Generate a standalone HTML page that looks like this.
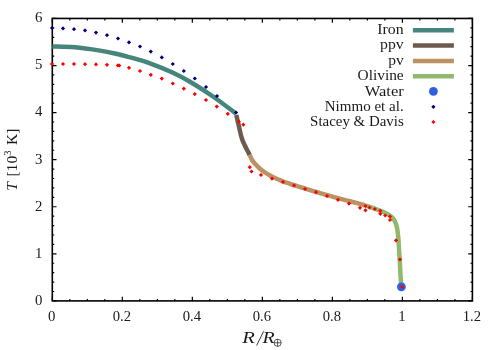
<!DOCTYPE html>
<html><head><meta charset="utf-8"><title>T profile</title>
<style>html,body{margin:0;padding:0;background:#fff}svg{display:block;will-change:transform}text{font-family:"Liberation Serif",serif;fill:#1a1a1a}</style></head><body>
<svg width="500" height="350" viewBox="0 0 500 350">
<rect width="500" height="350" fill="#fff"/>
<path d="M52.3 300.9v-4.2M52.3 18.45v4.2M69.8 300.9v-1.95M69.8 18.45v1.95M87.31 300.9v-1.95M87.31 18.45v1.95M104.81 300.9v-1.95M104.81 18.45v1.95M122.32 300.9v-4.2M122.32 18.45v4.2M139.82 300.9v-1.95M139.82 18.45v1.95M157.32 300.9v-1.95M157.32 18.45v1.95M174.83 300.9v-1.95M174.83 18.45v1.95M192.33 300.9v-4.2M192.33 18.45v4.2M209.84 300.9v-1.95M209.84 18.45v1.95M227.34 300.9v-1.95M227.34 18.45v1.95M244.85 300.9v-1.95M244.85 18.45v1.95M262.35 300.9v-4.2M262.35 18.45v4.2M279.85 300.9v-1.95M279.85 18.45v1.95M297.36 300.9v-1.95M297.36 18.45v1.95M314.86 300.9v-1.95M314.86 18.45v1.95M332.37 300.9v-4.2M332.37 18.45v4.2M349.87 300.9v-1.95M349.87 18.45v1.95M367.38 300.9v-1.95M367.38 18.45v1.95M384.88 300.9v-1.95M384.88 18.45v1.95M402.38 300.9v-4.2M402.38 18.45v4.2M419.89 300.9v-1.95M419.89 18.45v1.95M437.39 300.9v-1.95M437.39 18.45v1.95M454.9 300.9v-1.95M454.9 18.45v1.95M472.4 300.9v-4.2M472.4 18.45v4.2M52.3 300.9h4.2M472.4 300.9h-4.2M52.3 291.48h1.95M472.4 291.48h-1.95M52.3 282.07h1.95M472.4 282.07h-1.95M52.3 272.65h1.95M472.4 272.65h-1.95M52.3 263.24h1.95M472.4 263.24h-1.95M52.3 253.82h4.2M472.4 253.82h-4.2M52.3 244.41h1.95M472.4 244.41h-1.95M52.3 234.99h1.95M472.4 234.99h-1.95M52.3 225.58h1.95M472.4 225.58h-1.95M52.3 216.16h1.95M472.4 216.16h-1.95M52.3 206.75h4.2M472.4 206.75h-4.2M52.3 197.33h1.95M472.4 197.33h-1.95M52.3 187.92h1.95M472.4 187.92h-1.95M52.3 178.5h1.95M472.4 178.5h-1.95M52.3 169.09h1.95M472.4 169.09h-1.95M52.3 159.67h4.2M472.4 159.67h-4.2M52.3 150.26h1.95M472.4 150.26h-1.95M52.3 140.84h1.95M472.4 140.84h-1.95M52.3 131.43h1.95M472.4 131.43h-1.95M52.3 122.01h1.95M472.4 122.01h-1.95M52.3 112.6h4.2M472.4 112.6h-4.2M52.3 103.19h1.95M472.4 103.19h-1.95M52.3 93.77h1.95M472.4 93.77h-1.95M52.3 84.35h1.95M472.4 84.35h-1.95M52.3 74.94h1.95M472.4 74.94h-1.95M52.3 65.53h4.2M472.4 65.53h-4.2M52.3 56.11h1.95M472.4 56.11h-1.95M52.3 46.69h1.95M472.4 46.69h-1.95M52.3 37.28h1.95M472.4 37.28h-1.95M52.3 27.87h1.95M472.4 27.87h-1.95M52.3 18.45h4.2M472.4 18.45h-4.2" stroke="#000" stroke-width="1.2" fill="none"/>
<rect x="52.3" y="18.45" width="420.1" height="282.45" fill="none" stroke="#000" stroke-width="1.6"/>
<text x="51.8" y="320.5" font-size="14.8" text-anchor="middle">0</text>
<text x="121.82" y="320.5" font-size="14.8" text-anchor="middle" textLength="18.3" lengthAdjust="spacingAndGlyphs">0.2</text>
<text x="191.83" y="320.5" font-size="14.8" text-anchor="middle" textLength="18.3" lengthAdjust="spacingAndGlyphs">0.4</text>
<text x="261.85" y="320.5" font-size="14.8" text-anchor="middle" textLength="18.3" lengthAdjust="spacingAndGlyphs">0.6</text>
<text x="331.87" y="320.5" font-size="14.8" text-anchor="middle" textLength="18.3" lengthAdjust="spacingAndGlyphs">0.8</text>
<text x="401.88" y="320.5" font-size="14.8" text-anchor="middle">1</text>
<text x="471.9" y="320.5" font-size="14.8" text-anchor="middle" textLength="18.3" lengthAdjust="spacingAndGlyphs">1.2</text>
<text x="42.5" y="304.9" font-size="14.8" text-anchor="end">0</text>
<text x="42.5" y="257.78" font-size="14.8" text-anchor="end">1</text>
<text x="42.5" y="210.67" font-size="14.8" text-anchor="end">2</text>
<text x="42.5" y="163.55" font-size="14.8" text-anchor="end">3</text>
<text x="42.5" y="116.44" font-size="14.8" text-anchor="end">4</text>
<text x="42.5" y="69.33" font-size="14.8" text-anchor="end">5</text>
<text x="42.5" y="22.21" font-size="14.8" text-anchor="end">6</text>
<path d="M52.3 46.4C56.08 46.55 67.05 46.6 75 47.3C82.95 48 93.33 49.57 100 50.6C106.67 51.63 110 52.38 115 53.5C120 54.62 124.17 55.67 130 57.3C135.83 58.93 142.83 60.72 150 63.3C157.17 65.88 166.33 69.72 173 72.8C179.67 75.88 183.33 77.85 190 81.8C196.67 85.75 205.25 91.13 213 96.5C220.75 101.87 232.58 111.08 236.5 114" stroke="#45857c" stroke-width="4.5" fill="none"/>
<path d="M236.3 115C236.68 116.67 237.83 121.67 238.6 125C239.37 128.33 240.27 132.5 240.9 135C241.53 137.5 241.78 138.33 242.4 140C243.02 141.67 243.82 143.33 244.6 145C245.38 146.67 246.25 148.33 247.1 150C247.95 151.67 249.27 154.17 249.7 155" stroke="#6c5b4c" stroke-width="4.5" fill="none"/>
<path d="M249.7 155C250.08 155.83 251.12 158.55 252 160C252.88 161.45 253.67 162.25 255 163.7C256.33 165.15 258.33 167.23 260 168.7C261.67 170.17 263.33 171.37 265 172.5C266.67 173.63 268.33 174.58 270 175.5C271.67 176.42 273.33 177.23 275 178C276.67 178.77 278.33 179.42 280 180.1C281.67 180.78 283.33 181.48 285 182.1C286.67 182.72 288.33 183.23 290 183.8C291.67 184.37 293.33 184.97 295 185.5C296.67 186.03 297.5 186.22 300 187C302.5 187.78 306.67 189.18 310 190.2C313.33 191.22 316.67 192.15 320 193.1C323.33 194.05 326.67 194.97 330 195.9C333.33 196.83 336.67 197.8 340 198.7C343.33 199.6 346.67 200.43 350 201.3C353.33 202.17 357.5 203.23 360 203.9C362.5 204.57 364.17 205.07 365 205.3" stroke="#ba9264" stroke-width="4.5" fill="none"/>
<path d="M365 205.3C365.83 205.58 368.33 206.42 370 207C371.67 207.58 373.33 208.2 375 208.8C376.67 209.4 378.33 209.95 380 210.6C381.67 211.25 383.33 211.88 385 212.7C386.67 213.52 388.57 214.45 390 215.5C391.43 216.55 392.6 217.58 393.6 219C394.6 220.42 395.37 222.17 396 224C396.63 225.83 397.03 227.83 397.4 230C397.77 232.17 397.97 234.5 398.2 237C398.43 239.5 398.6 242 398.8 245C399 248 399.2 251.67 399.4 255C399.6 258.33 399.82 261.67 400 265C400.18 268.33 400.33 272.17 400.5 275C400.67 277.83 400.85 280.03 401 282C401.15 283.97 401.33 286 401.4 286.8" stroke="#90b96d" stroke-width="4.5" fill="none"/>
<circle cx="401.4" cy="286.8" r="4.4" fill="#2f5fe3"/>
<path d="M52 25.9l2.1 2.1l-2.1 2.1l-2.1 -2.1zM63 26.3l2.1 2.1l-2.1 2.1l-2.1 -2.1zM74 27.1l2.1 2.1l-2.1 2.1l-2.1 -2.1zM85 28.3l2.1 2.1l-2.1 2.1l-2.1 -2.1zM96 30.5l2.1 2.1l-2.1 2.1l-2.1 -2.1zM107 33.1l2.1 2.1l-2.1 2.1l-2.1 -2.1zM118 36.4l2.1 2.1l-2.1 2.1l-2.1 -2.1zM129 40.2l2.1 2.1l-2.1 2.1l-2.1 -2.1zM140 44.4l2.1 2.1l-2.1 2.1l-2.1 -2.1zM150.8 49.5l2.1 2.1l-2.1 2.1l-2.1 -2.1zM161.8 55.3l2.1 2.1l-2.1 2.1l-2.1 -2.1zM172.8 61.9l2.1 2.1l-2.1 2.1l-2.1 -2.1zM183.8 68.9l2.1 2.1l-2.1 2.1l-2.1 -2.1zM194.8 76.4l2.1 2.1l-2.1 2.1l-2.1 -2.1zM206 84.9l2.1 2.1l-2.1 2.1l-2.1 -2.1zM217 93.9l2.1 2.1l-2.1 2.1l-2.1 -2.1zM236 110.4l2.1 2.1l-2.1 2.1l-2.1 -2.1zM433.4 104.7l2.1 2.1l-2.1 2.1l-2.1 -2.1z" fill="#000080"/>
<path d="M52 61.9l2.1 2.1l-2.1 2.1l-2.1 -2.1zM63 61.9l2.1 2.1l-2.1 2.1l-2.1 -2.1zM74 61.9l2.1 2.1l-2.1 2.1l-2.1 -2.1zM85 62.1l2.1 2.1l-2.1 2.1l-2.1 -2.1zM96 62.3l2.1 2.1l-2.1 2.1l-2.1 -2.1zM107 62.7l2.1 2.1l-2.1 2.1l-2.1 -2.1zM117.9 63.3l2.1 2.1l-2.1 2.1l-2.1 -2.1zM119.3 63.4l2.1 2.1l-2.1 2.1l-2.1 -2.1zM129 65.7l2.1 2.1l-2.1 2.1l-2.1 -2.1zM140 68.9l2.1 2.1l-2.1 2.1l-2.1 -2.1zM150.8 72.7l2.1 2.1l-2.1 2.1l-2.1 -2.1zM161.8 76.5l2.1 2.1l-2.1 2.1l-2.1 -2.1zM172.8 81.4l2.1 2.1l-2.1 2.1l-2.1 -2.1zM183.8 86.6l2.1 2.1l-2.1 2.1l-2.1 -2.1zM194.8 92l2.1 2.1l-2.1 2.1l-2.1 -2.1zM206 97.9l2.1 2.1l-2.1 2.1l-2.1 -2.1zM216.8 104.5l2.1 2.1l-2.1 2.1l-2.1 -2.1zM227.8 111.7l2.1 2.1l-2.1 2.1l-2.1 -2.1zM238.8 119.4l2.1 2.1l-2.1 2.1l-2.1 -2.1zM243.3 122.6l2.1 2.1l-2.1 2.1l-2.1 -2.1zM249.8 165.1l2.1 2.1l-2.1 2.1l-2.1 -2.1zM251.5 169.4l2.1 2.1l-2.1 2.1l-2.1 -2.1zM261 172.9l2.1 2.1l-2.1 2.1l-2.1 -2.1zM272 176.5l2.1 2.1l-2.1 2.1l-2.1 -2.1zM283 179.9l2.1 2.1l-2.1 2.1l-2.1 -2.1zM294 183.3l2.1 2.1l-2.1 2.1l-2.1 -2.1zM305 186.9l2.1 2.1l-2.1 2.1l-2.1 -2.1zM316 190.1l2.1 2.1l-2.1 2.1l-2.1 -2.1zM327 193.9l2.1 2.1l-2.1 2.1l-2.1 -2.1zM338 197.7l2.1 2.1l-2.1 2.1l-2.1 -2.1zM349 201.5l2.1 2.1l-2.1 2.1l-2.1 -2.1zM360 205.7l2.1 2.1l-2.1 2.1l-2.1 -2.1zM365.5 203.9l2.1 2.1l-2.1 2.1l-2.1 -2.1zM365.5 208.2l2.1 2.1l-2.1 2.1l-2.1 -2.1zM369.5 205.4l2.1 2.1l-2.1 2.1l-2.1 -2.1zM374.8 206.9l2.1 2.1l-2.1 2.1l-2.1 -2.1zM380.3 208.7l2.1 2.1l-2.1 2.1l-2.1 -2.1zM380.3 211.7l2.1 2.1l-2.1 2.1l-2.1 -2.1zM385.2 213.4l2.1 2.1l-2.1 2.1l-2.1 -2.1zM390 214.4l2.1 2.1l-2.1 2.1l-2.1 -2.1zM390 217.9l2.1 2.1l-2.1 2.1l-2.1 -2.1zM396 238.3l2.1 2.1l-2.1 2.1l-2.1 -2.1zM400 257.3l2.1 2.1l-2.1 2.1l-2.1 -2.1zM402.3 284.7l2.1 2.1l-2.1 2.1l-2.1 -2.1zM433.4 119.9l2.1 2.1l-2.1 2.1l-2.1 -2.1z" fill="#ff0000"/>
<text x="403.7" y="34.1" font-size="14.7" text-anchor="end" textLength="26.4" lengthAdjust="spacingAndGlyphs">Iron</text>
<text x="403.7" y="49.47" font-size="14.7" text-anchor="end" textLength="23.7" lengthAdjust="spacingAndGlyphs">ppv</text>
<text x="403.7" y="64.84" font-size="14.7" text-anchor="end" textLength="15.5" lengthAdjust="spacingAndGlyphs">pv</text>
<text x="403.7" y="80.21" font-size="14.7" text-anchor="end" textLength="46.1" lengthAdjust="spacingAndGlyphs">Olivine</text>
<text x="403.7" y="95.58" font-size="14.7" text-anchor="end" textLength="38.9" lengthAdjust="spacingAndGlyphs">Water</text>
<text x="403.7" y="110.95" font-size="14.7" text-anchor="end" textLength="79" lengthAdjust="spacingAndGlyphs">Nimmo et al.</text>
<text x="403.7" y="126.32" font-size="14.7" text-anchor="end" textLength="93.6" lengthAdjust="spacingAndGlyphs">Stacey &amp; Davis</text>
<path d="M412.9 30.25H453.9" stroke="#45857c" stroke-width="4.5"/>
<path d="M412.9 45.62H453.9" stroke="#6c5b4c" stroke-width="4.5"/>
<path d="M412.9 60.99H453.9" stroke="#ba9264" stroke-width="4.5"/>
<path d="M412.9 76.36H453.9" stroke="#90b96d" stroke-width="4.5"/>
<circle cx="433.4" cy="91.4" r="4.4" fill="#2f5fe3"/>
<g font-size="16" font-style="italic"><text x="242.3" y="343.4" textLength="12.6" lengthAdjust="spacingAndGlyphs">R</text><path d="M256.6 345.6L263.6 331.3" stroke="#1a1a1a" stroke-width="0.85" fill="none"/><text x="262.5" y="343.4" textLength="12.2" lengthAdjust="spacingAndGlyphs">R</text></g>
<g stroke="#1a1a1a" stroke-width="0.7" fill="none"><circle cx="277.6" cy="342.8" r="3.6"/><path d="M274 342.8h7.2M277.6 339.2v7.2"/></g>
<text transform="translate(17.1 190.8) rotate(-90)" font-size="15.6" word-spacing="1.6"><tspan font-style="italic">T</tspan> [10<tspan font-size="10.5" dy="-6.2">3</tspan><tspan dy="6.2"> K]</tspan></text>
</svg></body></html>
